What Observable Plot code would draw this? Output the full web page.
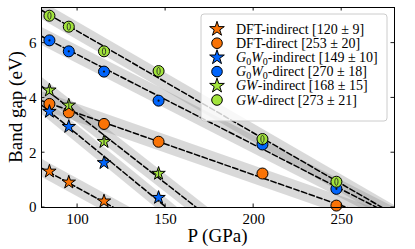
<!DOCTYPE html>
<html><head><meta charset="utf-8">
<script src="https://cdn.jsdelivr.net/npm/d3@7"></script>
<script src="https://cdn.jsdelivr.net/npm/@observablehq/plot@0.6"></script>
<style>body{margin:0;background:#fff}</style>
</head><body><div id="chart"></div>
<script>
// ---- data ----
const pressures = [84, 95, 115, 146, 205, 247];          // GPa
const dftIndirect  = [1.32, 0.92, 0.23];
const dftDirect    = [3.78, 3.47, 3.05, 2.40, 1.24, 0.07];
const g0w0Indirect = [3.50, 2.95, 1.63, 0.36];
const g0w0Direct   = [6.10, 5.70, 4.96, 3.90, 2.30, 0.68];
const gwIndirect   = [4.28, 3.73, 2.40, 1.24];
const gwDirect     = [7.00, 6.60, 5.70, 4.98, 2.50, 0.94];
const seriesKeys   = ["dftI", "dftD", "g0I", "g0D", "gwI", "gwD"];
const seriesValues = [dftIndirect, dftDirect, g0w0Indirect, g0w0Direct, gwIndirect, gwDirect];
const seriesColor  = ["#f97306", "#f97306", "#0165fc", "#0165fc", "#a2e43c", "#a2e43c"];
const seriesSymbol = ["star", "circle", "star", "circle", "star", "circle"];
const metalLabels  = ["120 ± 9", "253 ± 20", "149 ± 10", "270 ± 18", "168 ± 15", "273 ± 21"];
// fitted lines: value at left edge P=79.5 and zero crossing (GPa)
const fitLeftP = 79.5;
const fitLeftE = [1.44, 3.90, 3.74, 6.25, 4.43, 7.20];
const fitZeroP = [120.5, 253, 150.5, 270, 167.5, 273];
const bandHalf = 0.33; // eV
const xDomain = [79.5, 280];
const yDomain = [0, 7.3];
const xTicks = [100, 150, 200, 250];
const yTicks = [0, 2, 4, 6];

const FONT = "Liberation Serif";

// ---- tables ----
const points = [];
seriesValues.forEach((vals, i) => vals.forEach((v, j) =>
  points.push({s: seriesKeys[i], P: pressures[j], E: v, color: seriesColor[i], sym: seriesSymbol[i]})));
const fitLines = [], bands = [];
seriesKeys.forEach((k, i) => {
  const slope = fitLeftE[i] / (fitZeroP[i] - fitLeftP);
  const eAt = p => slope * (fitZeroP[i] - p);
  [fitLeftP, xDomain[1]].forEach(p => {
    fitLines.push({s: k, P: p, E: eAt(p)});
    bands.push({s: k, P: p, lo: eAt(p) - bandHalf, hi: eAt(p) + bandHalf});
  });
});

// custom inner glyphs
const tinyDot = {draw(c) { c.moveTo(1.1, 0); c.arc(0, 0, 1.1, 0, 2 * Math.PI); }};
const tinyOval = {draw(c) {
  const w = 1.6, h = 3.6, k = 0.5523;
  c.moveTo(0, -h);
  c.bezierCurveTo(w * k, -h, w, -h * k, w, 0);
  c.bezierCurveTo(w, h * k, w * k, h, 0, h);
  c.bezierCurveTo(-w * k, h, -w, h * k, -w, 0);
  c.bezierCurveTo(-w, -h * k, -w * k, -h, 0, -h);
  c.closePath();
}};
const tinyBar = {draw(c) { c.moveTo(0, -3.5); c.lineTo(0, 3.5); c.moveTo(-1.5, -2.5); c.lineTo(0, -3.5); }};

const stars = points.filter(d => d.sym === "star");
const circles = points.filter(d => d.sym === "circle");

const plot = Plot.plot({
  width: 415, height: 249,
  marginLeft: 41, marginRight: 21, marginTop: 7, marginBottom: 42,
  x: {domain: xDomain},
  y: {domain: yDomain},
  style: {fontFamily: FONT, fontSize: "15px", color: "black", background: "white"},
  marks: [
    Plot.areaY(bands, {x: "P", y1: "lo", y2: "hi", z: "s", fill: "#8a8a8a", fillOpacity: 0.32, clip: true}),
    Plot.line(fitLines, {x: "P", y: "E", z: "s", stroke: "black", strokeWidth: 1.5, strokeDasharray: "5.5,2.6", clip: true}),
    Plot.dot(circles, {x: "P", y: "E", r: 5.5, fill: "color", stroke: "black", strokeWidth: 1}),
    Plot.dot(stars, {x: "P", y: "E", r: 4.2, symbol: "star", fill: "color", stroke: "black", strokeWidth: 1}),
    Plot.dot(circles.filter(d => d.s === "g0D"), {x: "P", y: "E", symbol: tinyDot, fill: "#111", stroke: "none", r: 1}),
    Plot.dot(circles.filter(d => d.s === "gwD"), {x: "P", y: "E", symbol: tinyOval, fill: "none", stroke: "#222", strokeWidth: 0.9, r: 1}),
    Plot.dot(stars.filter(d => d.s === "gwI"), {x: "P", y: "E", symbol: tinyBar, fill: "none", stroke: "#222", strokeWidth: 0.9, r: 1}),
    Plot.frame({stroke: "black", strokeWidth: 1}),
    Plot.axisX({ticks: xTicks, tickSize: 0, tickPadding: 6, label: null, fontSize: 15}),
    Plot.axisY({ticks: yTicks, tickSize: 0, tickPadding: 5, label: null, fontSize: 15})
  ]
});
document.getElementById("chart").appendChild(plot);

// ---- inward ticks on all four sides, axis titles, legend ----
const svg = d3.select(plot);
const sx = plot.scale("x"), sy = plot.scale("y");
const [x0, x1] = sx.range, [yb, yt] = sy.range;
const tk = svg.append("g").attr("stroke", "black").attr("stroke-width", 0.9);
xTicks.forEach(t => {
  const x = sx.apply(t);
  tk.append("line").attr("x1", x).attr("x2", x).attr("y1", yb).attr("y2", yb - 3.5);
  tk.append("line").attr("x1", x).attr("x2", x).attr("y1", yt).attr("y2", yt + 3.5);
});
yTicks.forEach(t => {
  const y = sy.apply(t);
  tk.append("line").attr("y1", y).attr("y2", y).attr("x1", x0).attr("x2", x0 + 3.5);
  tk.append("line").attr("y1", y).attr("y2", y).attr("x1", x1).attr("x2", x1 - 3.5);
});
const txt = (sel) => sel.style("font-family", FONT).attr("fill", "black").attr("stroke", "none");
txt(svg.append("text")).attr("x", (x0 + x1) / 2).attr("y", 242).attr("text-anchor", "middle")
  .style("font-size", "19px").text("P (GPa)");
txt(svg.append("text")).attr("transform", `translate(22,${(yb + yt) / 2}) rotate(-90)`).attr("text-anchor", "middle")
  .style("font-size", "19px").text("Band gap (eV)");

const lg = svg.append("g");
lg.append("rect").attr("x", 201).attr("y", 14).attr("width", 186).attr("height", 107).attr("rx", 3)
  .attr("fill", "white").attr("fill-opacity", 0.8).attr("stroke", "#cccccc").attr("stroke-width", 1);
const prefixes = ["DFT", "DFT", "G0W0", "G0W0", "GW", "GW"];
const kinds = ["indirect", "direct", "indirect", "direct", "indirect", "direct"];
seriesKeys.forEach((k, i) => {
  const cy = 29 + i * 14.2;
  const size = seriesSymbol[i] === "star" ? Math.PI * 4.6 * 4.6 : Math.PI * 5.3 * 5.3;
  lg.append("path").attr("d", d3.symbol(seriesSymbol[i] === "star" ? d3.symbolStar : d3.symbolCircle, size)())
    .attr("transform", `translate(217,${cy})`).attr("fill", seriesColor[i]).attr("stroke", "black").attr("stroke-width", 1);
  const t = txt(lg.append("text")).attr("x", 236).attr("y", cy + 4.6).style("font-size", "14px")
    .attr("text-anchor", "start");
  const p = prefixes[i];
  if (p === "DFT") t.append("tspan").text("DFT");
  else if (p === "G0W0") {
    t.append("tspan").attr("font-style", "italic").text("G");
    t.append("tspan").style("font-size", "10px").attr("dy", 3).text("0");
    t.append("tspan").attr("font-style", "italic").attr("dy", -3).text("W");
    t.append("tspan").style("font-size", "10px").attr("dy", 3).text("0");
  } else t.append("tspan").attr("font-style", "italic").text("GW");
  t.append("tspan").attr("dy", p === "G0W0" ? -3 : 0).text(`-${kinds[i]} [${metalLabels[i]}]`);
});
</script></body></html>
